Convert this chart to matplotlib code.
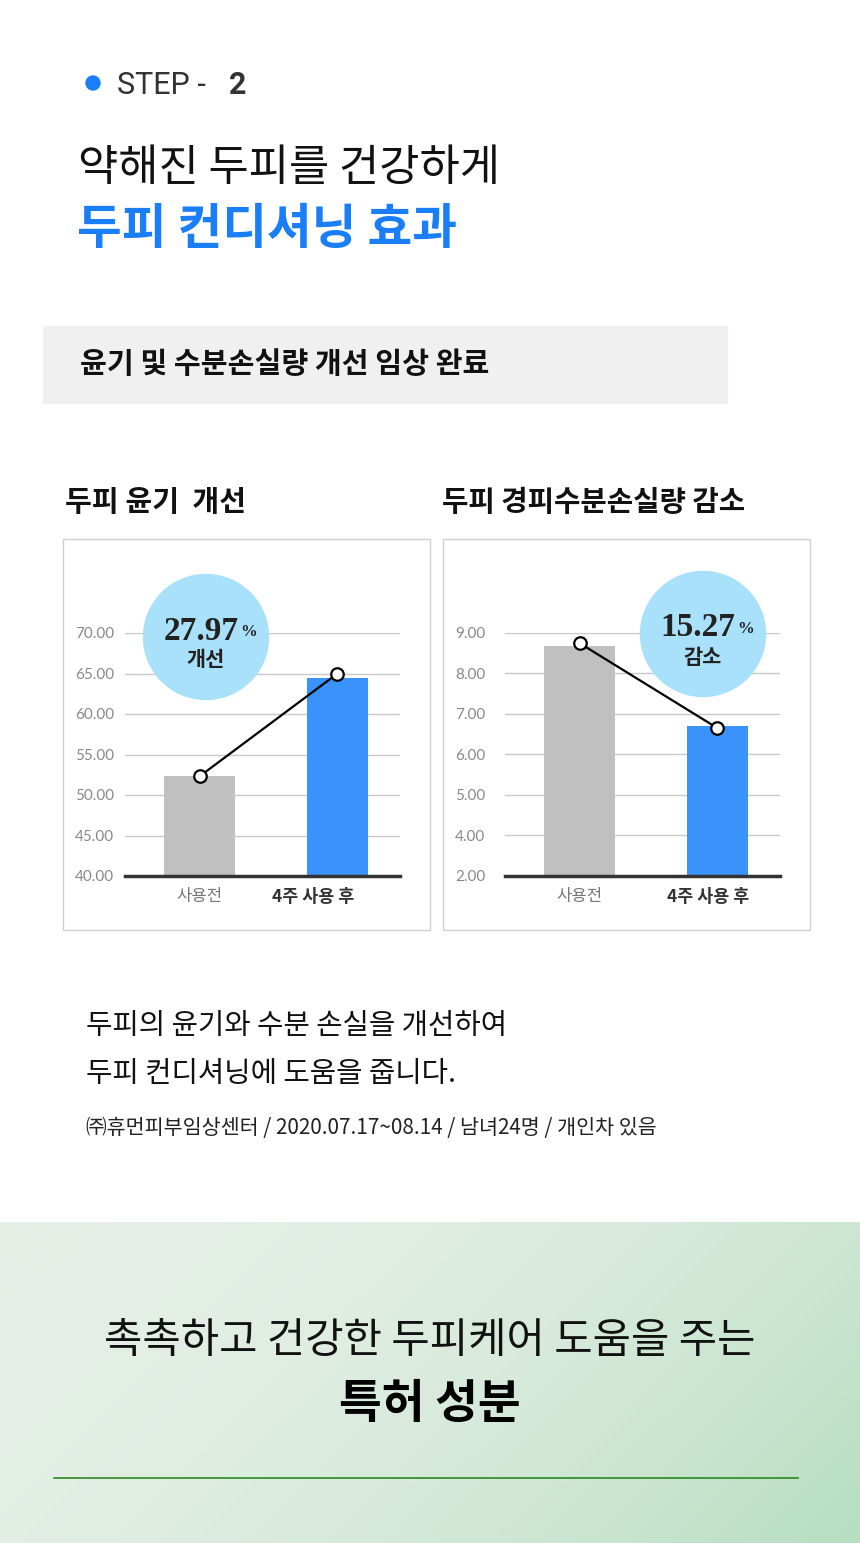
import numpy as np
import matplotlib
matplotlib.use("Agg")
import matplotlib.pyplot as plt
from matplotlib.patches import Circle, Rectangle

plt.rcParams['font.family'] = ['Noto Sans CJK KR', 'DejaVu Sans']

# data
categories = ["사용전", "4주 사용 후"]
gloss_bars = [52.4, 64.5]
gloss_line = [52.3, 65.0]
gloss_ticks = [40, 45, 50, 55, 60, 65, 70]
tewl_bars = [8.68, 6.70]
tewl_line = [8.75, 6.65]
tewl_ticks = [2, 4, 5, 6, 7, 8, 9]
gloss_change = "27.97"
tewl_change = "15.27"

W, H = 860, 1543
fig = plt.figure(figsize=(W / 100, H / 100), dpi=100)
fig.patch.set_facecolor("white")

# background axes in pixel coordinates
bg = fig.add_axes([0, 0, 1, 1])
bg.set_xlim(0, W)
bg.set_ylim(H, 0)
bg.axis("off")

BLUE = "#1a7ef8"

# header
bg.add_patch(Circle((93, 83), 7, color=BLUE))
bg.text(117, 85, "STEP -", fontsize=22, color="#333333", va="center", ha="left", family=["Roboto", "DejaVu Sans"])
bg.text(229, 85, "2", fontsize=22, color="#333333", va="center", ha="left", fontweight="bold",
        family=["Roboto", "DejaVu Sans"])
bg.text(78, 168, "약해진 두피를 건강하게", fontsize=31.5, color="#111111", va="center", ha="left", fontweight="light")
bg.text(77, 229, "두피 컨디셔닝 효과", fontsize=35, color=BLUE, va="center", ha="left", fontweight="black")

bg.add_patch(Rectangle((43, 326), 684, 77, color="#f0f0f0"))
bg.text(80, 364, "윤기 및 수분손실량 개선 임상 완료", fontsize=21, color="#111111", va="center", ha="left", fontweight="bold")

bg.text(65, 502, "두피 윤기  개선", fontsize=21, color="#111111", va="center", ha="left", fontweight="bold")
bg.text(442, 502, "두피 경피수분손실량 감소", fontsize=20.7, color="#111111", va="center", ha="left", fontweight="bold")

for x0 in [63, 443]:
    bg.add_patch(Rectangle((x0, 539), 367, 391, fill=False, edgecolor="#d0d0d0", linewidth=1))

# lower text
bg.text(86, 1026, "두피의 윤기와 수분 손실을 개선하여", fontsize=20.7, color="#111111", va="center", ha="left",
        fontweight="medium")
bg.text(86, 1074, "두피 컨디셔닝에 도움을 줍니다.", fontsize=20.7, color="#111111", va="center", ha="left",
        fontweight="medium")
bg.text(86, 1128, "㈜휴먼피부임상센터 / 2020.07.17~08.14 / 남녀24명 / 개인차 있음", fontsize=14.9, color="#222222",
        va="center", ha="left")

# green gradient footer
gx = np.linspace(0, 1, 200)
gy = np.linspace(0, 1, 80)
GX, GY = np.meshgrid(gx, gy)
t = np.clip(0.8 * GX + 0.3 * GY - 0.1, 0, 1) ** 1.8
c0 = np.array([0xe5, 0xef, 0xe7]) / 255
c1 = np.array([0xb6, 0xde, 0xc0]) / 255
img = c0[None, None, :] * (1 - t[..., None]) + c1[None, None, :] * t[..., None]
bg.imshow(img, extent=[0, W, H, 1222], aspect="auto", zorder=0, interpolation="bilinear")
bg.set_xlim(0, W)
bg.set_ylim(H, 0)
bg.text(430, 1342, "촉촉하고 건강한 두피케어 도움을 주는", fontsize=30, color="#111111", va="center", ha="center",
        fontweight="light")
bg.text(430, 1404, "특허 성분", fontsize=33.5, color="#000000", va="center", ha="center", fontweight="black")
bg.plot([54, 798], [1478, 1478], color="#2a8a1e", linewidth=1.2)


def px_axes(x0, x1, ytop, ybot):
    return fig.add_axes([x0 / W, 1 - ybot / H, (x1 - x0) / W, (ybot - ytop) / H])


def draw_chart(ax, bars, line, ticks, change, word, circle_xy, label_x):
    ax.set_facecolor("none")
    x = np.arange(len(categories))
    ax.bar(x, bars, width=[0.51, 0.44], color=["#c0c0c0", "#3a93fb"], zorder=2)
    ax.plot(x, line, color="black", linewidth=1.6, marker="o", markersize=9,
            markerfacecolor="white", markeredgecolor="black", markeredgewidth=1.6, zorder=4, clip_on=False)
    ax.set_xlim(-0.54, 1.453)
    ax.set_ylim(ticks[0], ticks[-1])
    ax.set_yticks(ticks)
    ax.set_yticklabels([f"{v:.2f}" for v in ticks], fontsize=11, color="#888888", family=["Lato", "DejaVu Sans"])
    for lab in ax.get_yticklabels():
        lab.set_horizontalalignment("left")
    ax.tick_params(axis="y", length=0, pad=36)
    ax.tick_params(axis="x", length=0, labelbottom=False)
    ax.yaxis.grid(True, color="#c8c8c8", linewidth=1, zorder=0)
    ax.set_axisbelow(True)
    for s in ["top", "right", "left"]:
        ax.spines[s].set_visible(False)
    ax.spines["bottom"].set_color("#333333")
    ax.spines["bottom"].set_linewidth(2.5)
    ax.spines["bottom"].set_zorder(5)

    ax.text(0, -0.085, categories[0], transform=ax.get_xaxis_transform(), ha="center", va="center",
            fontsize=12, color="#777777")
    ax.text(label_x, -0.085, categories[1], transform=ax.get_xaxis_transform(), ha="center", va="center",
            fontsize=12.5, color="#333333", fontweight="bold")

    cx, cy = circle_xy
    ax.add_patch(Circle((cx, cy), 62.5, transform=bg.transData, color="#a5e0fb", alpha=0.95,
                        clip_on=False, zorder=6))
    num = ax.text(cx - 5, cy - 6, change, transform=bg.transData, ha="center", va="center", fontsize=24,
                  fontweight="bold", family=["Liberation Serif", "DejaVu Serif"], color="#222222", zorder=7)
    ax.annotate("%", xy=(1.0, 0.22), xycoords=num, xytext=(1, 0), textcoords="offset points",
                ha="left", va="bottom", fontsize=12, fontweight="bold",
                family=["Liberation Serif", "DejaVu Serif"], color="#222222", zorder=7)
    ax.text(cx, cy + 23, word, transform=bg.transData, ha="center", va="center", fontsize=15,
            fontweight="black", color="#222222", zorder=7)


ax1 = px_axes(125, 400, 633, 876)
draw_chart(ax1, gloss_bars, gloss_line, gloss_ticks, gloss_change, "개선", (206, 637), 0.82)

ax2 = px_axes(505, 780, 633, 876)


def fwd(v):
    v = np.asarray(v, dtype=float)
    return np.where(v >= 4, v, 3 + (v - 2) / 2)


def inv(u):
    u = np.asarray(u, dtype=float)
    return np.where(u >= 4, u, 2 + (u - 3) * 2)


ax2.set_yscale("function", functions=(fwd, inv))
draw_chart(ax2, tewl_bars, tewl_line, tewl_ticks, tewl_change, "감소", (703, 634), 0.93)

fig.savefig("out.png", dpi=100, facecolor="white")
